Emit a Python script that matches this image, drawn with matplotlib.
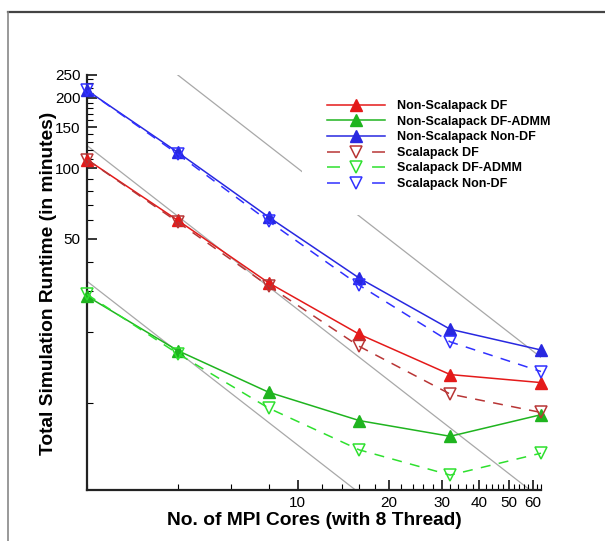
import numpy as np
import matplotlib
matplotlib.use('Agg')
import matplotlib.pyplot as plt
from matplotlib.ticker import NullFormatter
from matplotlib.lines import Line2D

plt.rcParams['font.family'] = ['Liberation Sans', 'DejaVu Sans']

# MPI cores on the x axis
cores = [2, 4, 8, 16, 32, 64]

# runtimes (minutes)
nonscal_df = [109, 60, 32.5, 19.6, 13.2, 12.2]
nonscal_dfadmm = [28.5, 16.7, 11.1, 8.4, 7.2, 8.9]
nonscal_nondf = [215, 117, 62, 34, 20.6, 16.8]
scal_df = [109, 59, 31.5, 17.4, 10.9, 9.1]
scal_dfadmm = [29, 16.2, 9.5, 6.3, 4.92, 6.1]
scal_nondf = [215, 115, 59.5, 31.7, 18.2, 13.6]

# ideal-scaling reference lines: runtime = C / cores
ideal_ref = [1000, 250, 66]

labels = ['Non-Scalapack DF', 'Non-Scalapack DF-ADMM', 'Non-Scalapack Non-DF',
          'Scalapack DF', 'Scalapack DF-ADMM', 'Scalapack Non-DF']

x_major = [10, 20, 30, 40, 50, 60]
x_minor = [v for v in range(2, 65, 2) if v not in x_major]
y_major = [50, 100, 150, 200, 250]
y_minor = [v for v in range(10, 250, 10) if v not in y_major]

fig = plt.figure(figsize=(6.05, 5.41), dpi=100)
ax = fig.add_axes([87 / 605, 1 - 490 / 541, 454 / 605, 415 / 541])

# outer frame lines of the original export
fig.add_artist(Line2D([8 / 605, 1], [1 - 12 / 541] * 2, color='#444444', lw=1.6, transform=fig.transFigure))
fig.add_artist(Line2D([8.3 / 605] * 2, [0, 1 - 12 / 541], color='#888888', lw=1.2, transform=fig.transFigure))

xr = np.array([2.0, 64.0])
for c in ideal_ref:
    ax.plot(xr, c / xr, color='#a8a8a8', lw=0.9, zorder=1)

solid = [(nonscal_df, '#e41a1a'), (nonscal_dfadmm, '#1fb41f'), (nonscal_nondf, '#2828e0')]
dashed = [(scal_df, '#b83535'), (scal_dfadmm, '#2ee02e'), (scal_nondf, '#3030ff')]

handles = []
for vals, col in solid:
    h, = ax.plot(cores, vals, color=col, lw=1.1, marker='^', ms=8, mec=col, mfc=col,
                 clip_on=False, zorder=3)
    handles.append(h)
for vals, col in dashed:
    h, = ax.plot(cores, vals, color=col, lw=1.1, marker='v', ms=9, mec=col, mfc='none',
                 mew=1.1, clip_on=False, zorder=3)
    h.set_dashes((6.5, 5.5))
    handles.append(h)

ax.set_xscale('log')
ax.set_yscale('log')
ax.set_xlim(2, 64)
ax.set_ylim(4.25, 250)

ax.set_xticks(x_major, labels=[str(v) for v in x_major])
ax.set_xticks(x_minor, minor=True)
ax.set_yticks(y_major, labels=[str(v) for v in y_major])
ax.set_yticks(y_minor, minor=True)
ax.xaxis.set_minor_formatter(NullFormatter())
ax.yaxis.set_minor_formatter(NullFormatter())

ax.tick_params(which='both', direction='in', top=False, right=False, labelsize=11, colors='black')
ax.tick_params(which='major', length=7.2, width=1.1, pad=4.5)
ax.tick_params(which='minor', length=4.0, width=0.8)

for side in ['top', 'right']:
    ax.spines[side].set_visible(False)
for side in ['left', 'bottom']:
    ax.spines[side].set_color('#222222')
    ax.spines[side].set_linewidth(1.6)

ax.set_xlabel('No. of MPI Cores (with 8 Thread)', fontsize=13.8, fontweight='bold')
ax.set_ylabel('Total Simulation Runtime (in minutes)', fontsize=13.8, fontweight='bold')
ax.xaxis.set_label_coords(0.5, -0.053)
ax.yaxis.set_label_coords(-0.065, 0.497)

leg = ax.legend(handles, labels, loc='upper left', bbox_to_anchor=(0.474, 1.0), borderaxespad=0,
                frameon=True, facecolor='white', edgecolor='none', framealpha=1, fancybox=False,
                prop={'weight': 'bold', 'size': 9.0}, borderpad=2.0,
                handlelength=4.64, handletextpad=0.96, labelspacing=0.29, numpoints=1)
leg.set_zorder(5)
for ln in leg.get_lines()[3:]:
    ln.set_dashes((8.5, 21))

fig.savefig('out.png', dpi=100)
